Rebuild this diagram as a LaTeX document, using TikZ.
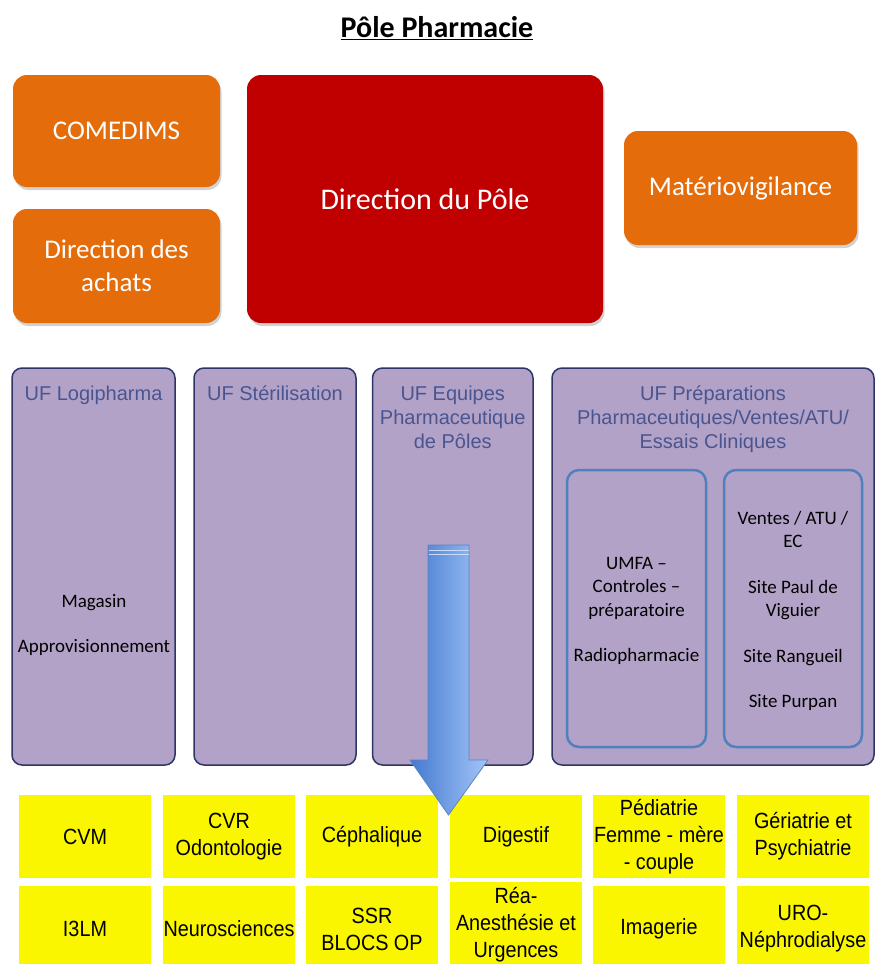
\documentclass[tikz,border=0pt]{standalone}
\usepackage{fontspec}
\setmainfont{Carlito}
\newfontfamily\arialf{Liberation Sans}
\newfontfamily\narrowf[FakeStretch=0.9]{Liberation Sans}
\usetikzlibrary{shadows}
\definecolor{orangec}{HTML}{E46C0A}
\definecolor{redc}{HTML}{C00000}
\definecolor{purplec}{HTML}{B3A2C7}
\definecolor{navyc}{HTML}{2E3566}
\definecolor{innerc}{HTML}{5080BD}
\definecolor{uftext}{HTML}{4A5590}
\definecolor{yellowc}{HTML}{FAF600}
\definecolor{arrowdark}{HTML}{4479CF}
\definecolor{arrowlight}{HTML}{A3C6F8}
\definecolor{arrowedge}{HTML}{5A84C4}
\tikzset{
  orangebox/.style={rectangle, rounded corners=14pt, fill=orangec, draw=none,
    drop shadow={shadow xshift=1.5pt, shadow yshift=-3pt, opacity=0.35},
    text=white, font=\fontsize{27}{33}\selectfont, align=center, inner sep=0pt},
  redbox/.style={orangebox, fill=redc, font=\fontsize{30}{36}\selectfont},
  ufbox/.style={rectangle, rounded corners=10pt, fill=purplec, draw=navyc, line width=1.5pt, inner sep=0pt},
  inbox/.style={rectangle, rounded corners=12pt, draw=innerc, line width=2.5pt, inner sep=0pt},
  yellowbox/.style={rectangle, fill=yellowc, inner sep=0pt, align=center,
    font=\narrowf\fontsize{22}{27}\selectfont, minimum width=132pt},
  uftitle/.style={text=uftext, font=\arialf\fontsize{20}{24}\selectfont, align=center, anchor=north, inner sep=0pt},
  intext/.style={font=\fontsize{19}{23.5}\selectfont, align=center, inner sep=0pt},
  titlestyle/.style={font=\bfseries\fontsize{30}{36}\selectfont, inner sep=0pt}
}
\begin{document}
\begin{tikzpicture}[x=1pt, y=-1pt]
\useasboundingbox (0,0) rectangle (876,964);
\clip (0,0) rectangle (876,964);
\fill[white] (0,0) rectangle (876,964);

\node[titlestyle] (title) at (437,28) {\underline{Pôle Pharmacie}};

% top boxes
\node[orangebox, minimum width=207pt, minimum height=112pt] (comedims) at (116.5,131) {COMEDIMS};
\node[orangebox, minimum width=207pt, minimum height=114pt] (achats) at (116.5,266) {Direction des\\achats};
\node[redbox, minimum width=356pt, minimum height=248pt] (direction) at (425,199) {Direction du Pôle};
\node[orangebox, minimum width=233pt, minimum height=114pt] (materio) at (740.5,188) {Matériovigilance};

% UF boxes
\node[ufbox, minimum width=163pt, minimum height=397pt] (logi) at (93.5,566.5) {};
\node[ufbox, minimum width=162pt, minimum height=397pt] (steri) at (275,566.5) {};
\node[ufbox, minimum width=160.5pt, minimum height=397pt] (equip) at (452.75,566.5) {};
\node[ufbox, minimum width=322pt, minimum height=397pt] (prep) at (713,566.5) {};

\node[uftitle] (logit) at (93.5,385.5) {UF Logipharma};
\node[uftitle] (sterit) at (275,385.5) {UF Stérilisation};
\node[uftitle] (equipt) at (452.75,385.5) {UF Equipes\\Pharmaceutique\\de Pôles};
\node[uftitle] (prept) at (713,385.5) {UF Préparations\\Pharmaceutiques/Ventes/ATU/\\Essais Cliniques};

\node[intext] (logitext) at (94,625) {Magasin\\[22pt]Approvisionnement};

% inner boxes
\node[inbox, minimum width=139pt, minimum height=277pt] (umfa) at (636.5,608.5) {};
\node[inbox, minimum width=138pt, minimum height=277pt] (ventes) at (793,608.5) {};
\node[intext] (umfat) at (636.5,611) {UMFA –\\Controles –\\préparatoire\\[22pt]Radiopharmacie};
\node[intext] (ventest) at (793,611) {Ventes / ATU /\\EC\\[22pt]Site Paul de\\Viguier\\[22pt]Site Rangueil\\[22pt]Site Purpan};

% yellow boxes, row 1
\node[yellowbox, minimum height=83pt] (cvm) at (85,836.5) {CVM};
\node[yellowbox, minimum height=83pt] (cvr) at (229,836.5) {CVR\\Odontologie};
\node[yellowbox, minimum height=83pt] (cepha) at (372,836.5) {Céphalique};
\node[yellowbox, minimum height=83pt] (dige) at (516,836.5) {Digestif};
\node[yellowbox, minimum height=83pt] (pedia) at (659,836.5) {Pédiatrie\\Femme - mère\\- couple};
\node[yellowbox, minimum height=83pt] (geria) at (803,836.5) {Gériatrie et\\Psychiatrie};
% row 2
\node[yellowbox, minimum height=86pt] (i3lm) at (85,929) {I3LM};
\node[yellowbox, minimum height=86pt] (neuro) at (229,929) {Neurosciences};
\node[yellowbox, minimum height=86pt] (ssr) at (372,929) {SSR\\BLOCS OP};
\node[yellowbox, minimum height=86pt] (rea) at (516,925) {Réa-\\Anesthésie et\\Urgences};
\node[yellowbox, minimum height=86pt] (imag) at (659,929) {Imagerie};
\node[yellowbox, minimum height=86pt] (uro) at (803,929) {URO-\\Néphrodialyse};

% block arrow
\coordinate (atop) at (448.5,545);
\coordinate (atip) at (448.5,815);
\shadedraw[left color=arrowdark, right color=arrowlight, draw=arrowedge, line width=0.8pt]
  (428,545) -- (469,545) -- (469,760) -- (488,760) -- (atip) -- (410,760) -- (428,760) -- cycle;
\draw[arrowlight!60!white, line width=1pt] (428.5,550) -- (468.5,550);
\draw[arrowlight!60!white, line width=1pt] (428.5,554) -- (468.5,554);
\end{tikzpicture}
\end{document}
